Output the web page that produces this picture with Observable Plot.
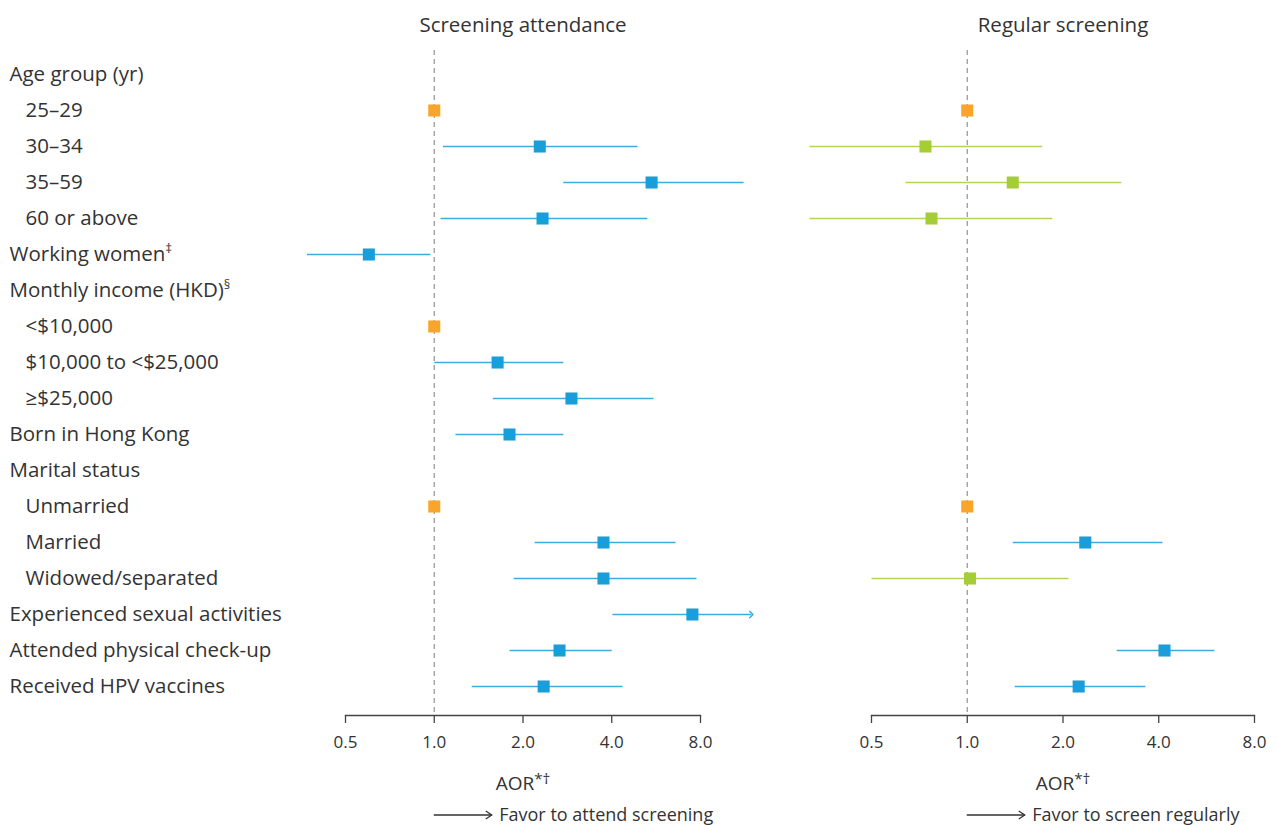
<!DOCTYPE html>
<html><head><meta charset="utf-8">
<script src="https://cdn.jsdelivr.net/npm/d3@7"></script>
<script src="https://cdn.jsdelivr.net/npm/@observablehq/plot@0.6"></script>
<style>
body{margin:0;background:#fff;}
#wrap{position:relative;width:1278px;height:825px;overflow:hidden;}
#wrap svg{position:absolute;top:0;background:transparent !important;overflow:visible;}
</style></head><body><div id="wrap"></div>
<script>
// ---- data ----
const rows = ["Age group (yr)", "25–29", "30–34", "35–59", "60 or above", "Working women‡",
  "Monthly income (HKD)§", "<$10,000", "$10,000 to <$25,000", "≥$25,000", "Born in Hong Kong",
  "Marital status", "Unmarried", "Married", "Widowed/separated", "Experienced sexual activities",
  "Attended physical check-up", "Received HPV vaccines"];
const levels = [0,1,1,1,1,0,0,1,1,1,0,0,1,1,1,0,0,0];

// Screening attendance
const attOR = [null, 1, 2.28, 5.46, 2.33, 0.60, null, 1, 1.64, 2.92, 1.80, null, 1, 3.75, 3.75, 7.51, 2.66, 2.35];
const attLo = [null, null, 1.07, 2.74, 1.05, 0.37, null, null, 1.00, 1.58, 1.18, null, null, 2.19, 1.86, 4.02, 1.80, 1.34];
const attHi = [null, null, 4.89, 11.2, 5.28, 0.97, null, null, 2.74, 5.54, 2.74, null, null, 6.58, 7.75, 11.9, 4.00, 4.35];
const attStatus = [null,"ref","sig","sig","sig","sig",null,"ref","sig","sig","sig",null,"ref","sig","sig","sig","sig","sig"];
const attTruncated = ["Experienced sexual activities"];

// Regular screening
const regOR = [null, 1, 0.739, 1.39, 0.772, null, null, null, null, null, null, null, 1, 2.35, 1.02, null, 4.17, 2.24];
const regLo = [null, null, 0.319, 0.64, 0.319, null, null, null, null, null, null, null, null, 1.39, 0.50, null, 2.95, 1.41];
const regHi = [null, null, 1.72, 3.05, 1.85, null, null, null, null, null, null, null, null, 4.11, 2.08, null, 5.98, 3.63];
const regStatus = [null,"ref","ns","ns","ns",null,null,null,null,null,null,null,"ref","sig","ns",null,"sig","sig"];
const regTruncated = [];

const xTicks = [0.5, 1, 2, 4, 8];
const xTickLabels = ["0.5", "1.0", "2.0", "4.0", "8.0"];
const statusKeys = ["ref", "sig", "ns"];
const statusColors = ["#f9a52b", "#1b9dd9", "#a5cd39"];

// ---- drawing ----
const FONT = "'Open Sans', 'DejaVu Sans', sans-serif";
const TXT = "#333";
const LABEL_SIZE = 20.5;

function supers(svg){
  d3.select(svg).selectAll("text").each(function(){
    if (this.querySelector("tspan")) return;
    const t = this.textContent;
    const m = t.match(/^(.*?)([*†‡§]+)$/);
    if (!m) return;
    this.textContent = m[1];
    const big = m[2].includes("*");
    d3.select(this).append("tspan")
      .attr("font-size", big ? "0.8em" : "0.62em")
      .attr("dy", big ? "-0.35em" : "-0.6em").text(m[2]);
  });
}

function panel({title, favor, OR, lo, hi, status, truncated, left, width, marginLeft, marginRight, showLabels}) {
  const data = rows.map((r,i)=>({row:r, level:levels[i], or:OR[i], lo:lo[i], hi:hi[i], status:status[i], open: truncated.includes(r)}));
  const ci = data.filter(d=>d.lo!=null);
  const pts = data.filter(d=>d.or!=null);
  const ticks = xTicks.map((v,i)=>({v, label:xTickLabels[i]}));
  const marks = [
    Plot.frame({anchor:"bottom", stroke:"#444", strokeWidth:1.3}),
    Plot.ruleX([1], {stroke:"#9a9a9a", strokeDasharray:"5,4", strokeWidth:1.3}),
    Plot.link(ci.filter(d=>!d.open), {x1:"lo", x2:"hi", y1:"row", y2:"row", stroke:"status", strokeWidth:1.6, strokeOpacity:0.85}),
    Plot.link(ci.filter(d=>d.open), {x1:"lo", x2:"hi", y1:"row", y2:"row", stroke:"status", strokeWidth:1.6, strokeOpacity:0.85, markerEnd:"arrow"}),
    Plot.dot(pts, {x:"or", y:"row", symbol:"square", r:6.8, fill:"status", stroke:null}),
    Plot.axisX({ticks:xTicks, tickFormat:()=>"", tickSize:8, label:null, stroke:"#444", strokeWidth:1.3}),
    Plot.text(ticks, {x:"v", text:"label", frameAnchor:"bottom", lineAnchor:"middle", dy:27, fontSize:17, fill:TXT}),
    Plot.text([title], {frameAnchor:"top", lineAnchor:"middle", dy:-25, fontSize:LABEL_SIZE, fill:TXT}),
    Plot.text(["AOR*†"], {frameAnchor:"bottom", lineAnchor:"middle", dy:68, fontSize:19, fill:TXT}),
    Plot.text([favor], {x:()=>1, frameAnchor:"bottom", lineAnchor:"middle", dy:100, dx:65, textAnchor:"start", fontSize:18, fill:TXT}),
    (index, scales, values, dims) => {
      const x0 = scales.x(1);
      const y = dims.height - dims.marginBottom + 100;
      const g = d3.create("svg:g").attr("stroke", TXT).attr("fill","none").attr("stroke-width",1.3);
      g.append("line").attr("x1", x0).attr("x2", x0+58).attr("y1", y).attr("y2", y);
      g.append("path").attr("d", `M${x0+52},${y-4}L${x0+58},${y}L${x0+52},${y+4}`);
      return g.node();
    }
  ];
  if (showLabels) {
    marks.push(Plot.text(data.filter(d=>d.level===0), {y:"row", text:"row", frameAnchor:"left", dx:9-marginLeft, textAnchor:"start", fontSize:LABEL_SIZE, fill:TXT}));
    marks.push(Plot.text(data.filter(d=>d.level===1), {y:"row", text:"row", frameAnchor:"left", dx:25-marginLeft, textAnchor:"start", fontSize:LABEL_SIZE, fill:TXT}));
  }
  const svg = Plot.plot({
    width, height:825, marginLeft, marginRight, marginTop:50, marginBottom:110,
    style:{fontFamily:FONT, background:"transparent", overflow:"visible", color:TXT},
    x:{type:"log", domain:[0.5, 8], axis:null},
    y:{type:"point", domain:rows, range:[71, 688], padding:0, axis:null},
    color:{domain:statusKeys, range:statusColors},
    marks
  });
  svg.style.left = left + "px";
  supers(svg);
  document.getElementById("wrap").appendChild(svg);
}

panel({title:"Screening attendance", favor:"Favor to attend screening", OR:attOR, lo:attLo, hi:attHi, status:attStatus, truncated:attTruncated,
  left:0, width:780, marginLeft:345, marginRight:80, showLabels:true});
panel({title:"Regular screening", favor:"Favor to screen regularly", OR:regOR, lo:regLo, hi:regHi, status:regStatus, truncated:regTruncated,
  left:760, width:518, marginLeft:111, marginRight:24, showLabels:false});
</script></body></html>
